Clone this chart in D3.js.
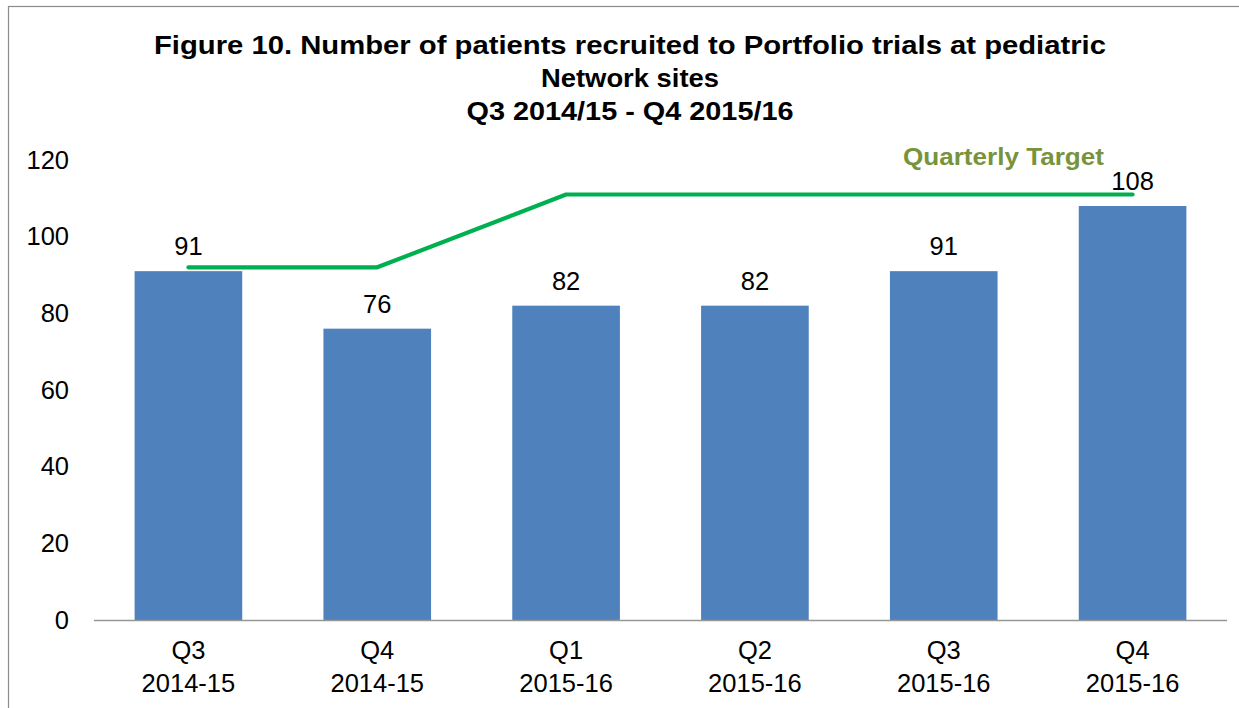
<!DOCTYPE html>
<html><head><meta charset="utf-8">
<script src="https://cdn.jsdelivr.net/npm/d3@7/dist/d3.min.js"></script>
<style>
body{margin:0;background:#fff;overflow:hidden;}
svg{display:block;}
text{font-family:"Liberation Sans",Arial,sans-serif;}
</style></head>
<body><svg id="c" width="1239" height="708"></svg>
<script>
const quarters = ["Q3","Q4","Q1","Q2","Q3","Q4"];
const years = ["2014-15","2014-15","2015-16","2015-16","2015-16","2015-16"];
const recruited = [91,76,82,82,91,108];
const target = [92,92,111,111,111,111];
const yTicks = [0,20,40,60,80,100,120];
const titleLines = ["Figure 10. Number of patients recruited to Portfolio trials at pediatric","Network sites","Q3 2014/15 - Q4 2015/16"];
const titleWidths = [952,178,327];

(function(){
const svg = d3.select("#c");
svg.append("rect").attr("x",8.5).attr("y",6.5).attr("width",1240).attr("height",720)
  .attr("fill","#fff").attr("stroke","#8c8c8c").attr("stroke-width",1.2);

const pLeft=94,pRight=1227,pTop=160,pBottom=620;
const idx = d3.range(quarters.length);
const x = d3.scaleBand().domain(idx).range([pLeft,pRight]).paddingInner(0.43).paddingOuter(0.215);
const y = d3.scaleLinear().domain([0,120]).range([pBottom,pTop]);
const fs = 25.5;

svg.append("g").selectAll("text").data(titleLines).join("text")
  .attr("x",630).attr("y",(d,i)=>54+i*33).attr("text-anchor","middle")
  .attr("textLength",(d,i)=>titleWidths[i]).attr("lengthAdjust","spacingAndGlyphs")
  .attr("font-size",25).attr("font-weight","bold").attr("fill","#000").text(d=>d);

const ya = svg.append("g").attr("transform",`translate(${pLeft},0)`)
  .call(d3.axisLeft(y).tickValues(yTicks).tickSize(0).tickPadding(25));
ya.select(".domain").remove();
ya.selectAll("text").attr("font-size",fs).attr("fill","#000").attr("font-family","Liberation Sans, Arial, sans-serif");

svg.append("g").selectAll("rect").data(recruited).join("rect")
  .attr("x",(d,i)=>x(i)).attr("width",x.bandwidth())
  .attr("y",d=>y(d)).attr("height",d=>pBottom-y(d)).attr("fill","#4f81bd");

svg.append("line").attr("x1",pLeft).attr("x2",pRight).attr("y1",pBottom+0.5).attr("y2",pBottom+0.5)
  .attr("stroke","#969696").attr("stroke-width",1.5);

const cx = i=>x(i)+x.bandwidth()/2;
svg.append("g").selectAll("text").data(recruited).join("text")
  .attr("x",(d,i)=>cx(i)).attr("y",d=>y(d)-16).attr("text-anchor","middle")
  .attr("font-size",fs).attr("fill","#000").text(d=>d);

const line = d3.line().x((d,i)=>cx(i)).y(d=>y(d));
svg.append("path").datum(target).attr("d",line).attr("fill","none")
  .attr("stroke","#00b050").attr("stroke-width",4.2).attr("stroke-linecap","round").attr("stroke-linejoin","round");

svg.append("text").attr("x",1104).attr("y",165).attr("text-anchor","end")
  .attr("textLength",201).attr("lengthAdjust","spacingAndGlyphs")
  .attr("font-size",24.5).attr("font-weight","bold").attr("fill","#77933c").text("Quarterly Target");

const cat = svg.append("g");
cat.selectAll("text.q").data(quarters).join("text").attr("class","q")
  .attr("x",(d,i)=>cx(i)).attr("y",659).attr("text-anchor","middle").attr("font-size",fs).text(d=>d);
cat.selectAll("text.yr").data(years).join("text").attr("class","yr")
  .attr("x",(d,i)=>cx(i)).attr("y",692).attr("text-anchor","middle").attr("font-size",fs).text(d=>d);
})();
</script></body></html>
